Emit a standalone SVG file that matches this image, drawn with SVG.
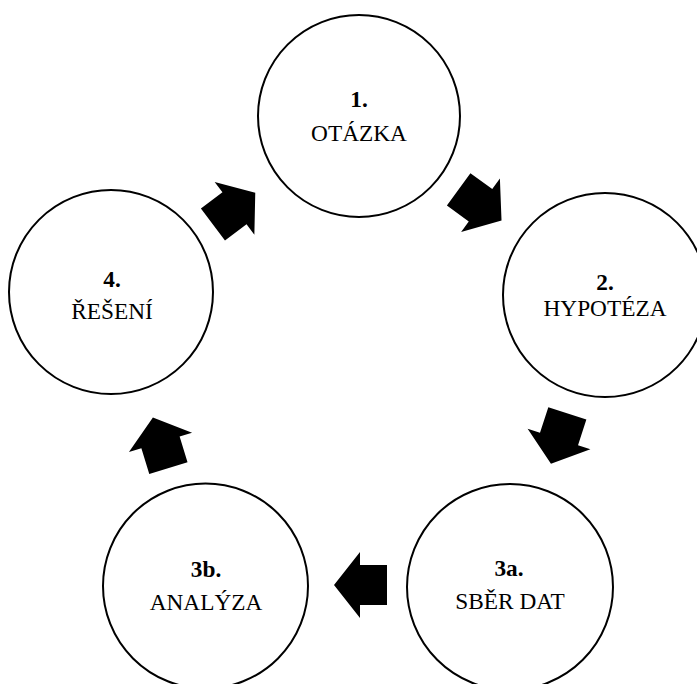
<svg xmlns="http://www.w3.org/2000/svg" width="697" height="684" viewBox="0 0 697 684">
<defs>
<style>
.node circle{fill:#fff;stroke:#000;stroke-width:2}
.num{font-family:'Liberation Serif','Times New Roman',serif;font-weight:bold;font-size:23.3px;text-anchor:middle;fill:#000}
.lbl{font-family:'Liberation Serif','Times New Roman',serif;font-size:23.3px;text-anchor:middle;fill:#000}
.arr{fill:#000}
</style>
<polygon id="blk" points="-27,-20 0,-20 0,-33 26,0 0,33 0,20 -27,20"/>
</defs>
<rect width="697" height="684" fill="#fff"/>
<g id="connectors" class="arr">
<use href="#blk" transform="translate(480.5,205.3) rotate(36)"/>
<use href="#blk" transform="translate(559,439) rotate(108)"/>
<use href="#blk" transform="translate(360,585) rotate(180)"/>
<use href="#blk" transform="translate(160.5,442.4) rotate(253)"/>
<use href="#blk" transform="translate(234.5,208.3) rotate(-37)"/>
</g>
<g id="node1" class="node">
<circle cx="359" cy="116" r="101"/>
<text class="num" x="359" y="107">1.</text>
<text class="lbl" x="359" y="141">OTÁZKA</text>
</g>
<g id="node2" class="node">
<circle cx="605" cy="295" r="102"/>
<text class="num" x="605" y="290">2.</text>
<text class="lbl" x="605" y="316">HYPOTÉZA</text>
</g>
<g id="node3a" class="node">
<circle cx="510" cy="587" r="103"/>
<text class="num" x="509" y="576">3a.</text>
<text class="lbl" x="510" y="609">SBĚR DAT</text>
</g>
<g id="node3b" class="node">
<circle cx="205.5" cy="586" r="102.5"/>
<text class="num" x="206" y="577">3b.</text>
<text class="lbl" x="206" y="610">ANALÝZA</text>
</g>
<g id="node4" class="node">
<circle cx="111" cy="292" r="102"/>
<text class="num" x="112" y="287">4.</text>
<text class="lbl" x="112" y="319">ŘEŠENÍ</text>
</g>
</svg>
